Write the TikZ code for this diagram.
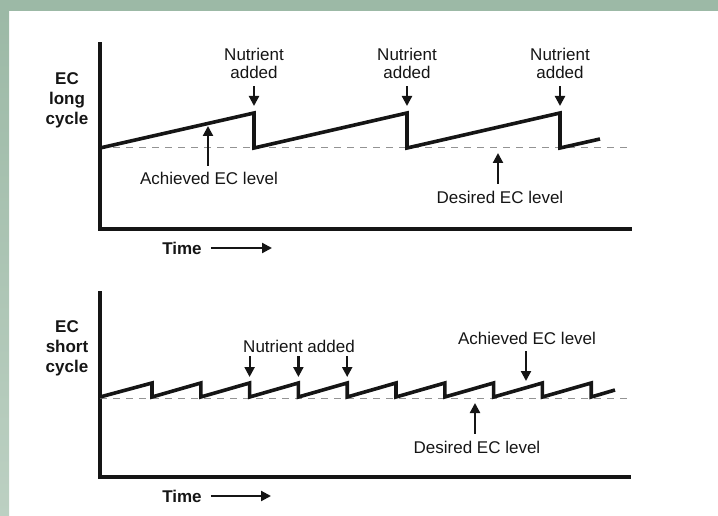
\documentclass[tikz,border=0pt]{standalone}
\usepackage{fontspec}
\setmainfont{Liberation Sans}
\usetikzlibrary{arrows.meta}
\definecolor{sage}{HTML}{9CB9A6}
\definecolor{sagelight}{HTML}{BCD0C2}
\definecolor{ink}{HTML}{151515}
\begin{document}
\begin{tikzpicture}[x=1pt,y=-1pt,
  axis/.style={line width=4pt, ink, line cap=rect},
  trace/.style={line width=3.6pt, ink, line join=miter},
  level/.style={line width=1pt, gray!85, dash pattern=on 7pt off 6pt},
  pointer/.style={line width=2.2pt, ink, -{Triangle[length=10pt,width=10pt]}},
  lbl/.style={font=\fontsize{17}{18}\selectfont, text=ink, inner sep=0pt, align=center},
  blbl/.style={font=\fontsize{17}{20}\selectfont\bfseries, text=ink, inner sep=0pt, align=center},
]
\useasboundingbox (0,0) rectangle (718,516);
% frame of the slide
\fill[sage] (0,0) rectangle (718,11);
\shade[top color=sage, bottom color=sagelight] (0,11) rectangle (9,516);

% ---------- long cycle ----------
\coordinate (l-top) at (100,44);
\coordinate (l-org) at (100,229);
\coordinate (l-end) at (630,229);
\draw[axis] (l-top) -- (l-org) -- (l-end);
\draw[level] (100,148) -- (633,148);
\draw[trace] (100,148) -- (254,113) -- (254,148) -- (407,113) -- (407,148)
  -- (560,113) -- (560,148) -- (600,139);

\node[blbl] (l-ylab) at (67,100) {EC\\long\\cycle};

\foreach \x [count=\i] in {254,407,560} {
  \node[lbl] (l-nut\i) at (\x,63) {Nutrient\\added};
  \coordinate (l-nut\i-tip) at (\x,106);
  \draw[pointer, shorten <=8pt] (l-nut\i) -- (l-nut\i-tip);
}

\node[lbl] (l-ach) at (209,178) {Achieved EC level};
\coordinate (l-ach-tip) at (208,126);
\draw[pointer, shorten <=6pt] (l-ach.north -| l-ach-tip) -- (l-ach-tip);

\node[lbl] (l-des) at (500,197) {Desired EC level};
\coordinate (l-des-tip) at (498,153);
\draw[pointer, shorten <=7pt] (l-des.north -| l-des-tip) -- (l-des-tip);

\node[blbl] (l-time) at (182,248) {Time};
\coordinate (l-time-tip) at (272,248);
\draw[pointer, shorten <=9pt] (l-time.east) -- (l-time-tip);

% ---------- short cycle ----------
\coordinate (s-top) at (100,293);
\coordinate (s-org) at (100,477);
\coordinate (s-end) at (629,477);
\draw[axis] (s-top) -- (s-org) -- (s-end);
\draw[level] (100,398) -- (631,398);
\draw[trace] (100,397)
  \foreach \k in {0,...,9} { -- ({152+48.8*\k},383) -- ({152+48.8*\k},397) }
  -- (615,390);

\node[blbl] (s-ylab) at (67,348) {EC\\short\\cycle};

\node[lbl] (s-nut) at (299,346) {Nutrient added};
\foreach \x [count=\i] in {249.6,298.4,347.2} {
  \coordinate (s-nut\i-tip) at (\x,377);
  \draw[pointer, shorten <=4pt] (s-nut.south -| s-nut\i-tip) -- (s-nut\i-tip);
}

\node[lbl] (s-ach) at (527,338) {Achieved EC level};
\coordinate (s-ach-tip) at (526,381);
\draw[pointer, shorten <=7pt] (s-ach.south -| s-ach-tip) -- (s-ach-tip);

\node[lbl] (s-des) at (477,447) {Desired EC level};
\coordinate (s-des-tip) at (475,403);
\draw[pointer, shorten <=7pt] (s-des.north -| s-des-tip) -- (s-des-tip);

\node[blbl] (s-time) at (182,496) {Time};
\coordinate (s-time-tip) at (271,496);
\draw[pointer, shorten <=9pt] (s-time.east) -- (s-time-tip);
\end{tikzpicture}
\end{document}
